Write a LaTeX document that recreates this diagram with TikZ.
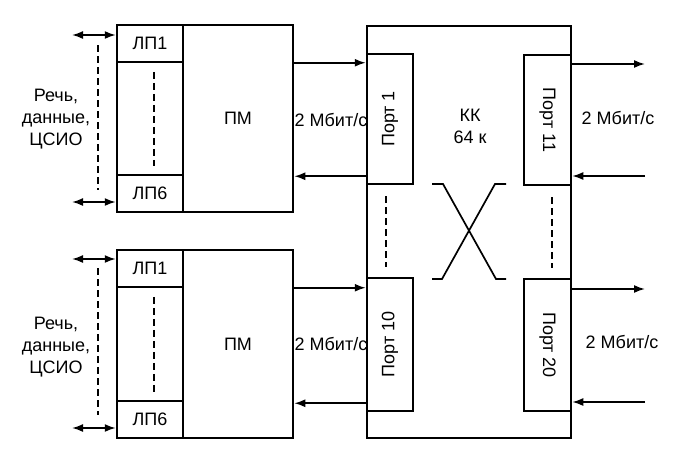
\documentclass[tikz,border=0pt]{standalone}
\usepackage{fontspec}
\setmainfont{Liberation Sans}
\usetikzlibrary{arrows.meta}

\begin{document}
\begin{tikzpicture}[x=1pt,y=-1pt,
		box/.style={draw, line width=2.5pt, fill=white, inner sep=0pt},
		arr/.style={line width=1.7pt, -{Latex[length=11pt,width=8pt]}},
		dblarr/.style={line width=1.7pt, {Latex[length=11pt,width=8pt]}-{Latex[length=11pt,width=8pt]}},
		dsh/.style={line width=1.7pt, dash pattern=on 7pt off 4pt},
		font=\fontsize{18}{22}\selectfont]
			\useasboundingbox (0,0) rectangle (691,455);
			\node[box, minimum width=110pt, minimum height=187pt] (pmA) at (238,118.5) {ПМ};
			\node[box, minimum width=66pt, minimum height=37pt] (lp1A) at (150,43.5) {ЛП1};
			\node[box, minimum width=66pt, minimum height=113pt] (lpmA) at (150,118.5) {};
			\node[box, minimum width=66pt, minimum height=37pt] (lp6A) at (150,193.5) {ЛП6};
			\node[box, minimum width=110pt, minimum height=188pt] (pmB) at (238,344) {ПМ};
			\node[box, minimum width=66pt, minimum height=37pt] (lp1B) at (150,268.5) {ЛП1};
			\node[box, minimum width=66pt, minimum height=114pt] (lpmB) at (150,344) {};
			\node[box, minimum width=66pt, minimum height=37pt] (lp6B) at (150,419.5) {ЛП6};
			\draw[dsh] ([xshift=4pt,yshift=-11pt]lpmA.north) -- ([xshift=4pt,yshift=10pt]lpmA.south);
			\draw[dsh] ([xshift=4pt,yshift=-11pt]lpmB.north) -- ([xshift=4pt,yshift=10pt]lpmB.south);
			\coordinate (srcA1) at (72,35);
			\coordinate (srcA6) at (72,202);
			\coordinate (srcB1) at (72,259);
			\coordinate (srcB6) at (72,428);
			\draw[dblarr] (srcA1) -- (srcA1 -| lp1A.west);
			\draw[dblarr] (srcA6) -- (srcA6 -| lp6A.west);
			\draw[dblarr] (srcB1) -- (srcB1 -| lp1B.west);
			\draw[dblarr] (srcB6) -- (srcB6 -| lp6B.west);
			\draw[dsh] (98,45) -- (98,190);
			\draw[dsh] (98,268) -- (98,415);
			\node[align=center] (txtA) at (56,119) {Речь,\\данные,\\ЦСИО};
			\node[align=center] (txtB) at (56,347) {Речь,\\данные,\\ЦСИО};
			\node[box, minimum width=204pt, minimum height=412pt] (kk) at (469,232) {};
			\node[align=center] (kktxt) at (470,126) {КК\\64 к};
			\node[box, minimum width=46pt, minimum height=130pt] (port1) at (390,119) {\rotatebox{90}{Порт 1}};
			\node[box, minimum width=47pt, minimum height=130pt] (port11) at (547.5,120) {\rotatebox{-90}{Порт 11}};
			\node[box, minimum width=46pt, minimum height=133pt] (port10) at (390,344.5) {\rotatebox{90}{Порт 10}};
			\node[box, minimum width=47pt, minimum height=132pt] (port20) at (547.5,345) {\rotatebox{-90}{Порт 20}};
			\draw[dsh] ([xshift=-4pt,yshift=-11pt]port1.south) -- ([xshift=-4pt,yshift=10pt]port10.north);
			\draw[dsh] ([xshift=4.5pt,yshift=-11pt]port11.south) -- ([xshift=4.5pt,yshift=10pt]port20.north);
			\draw[line width=1.7pt] (432,184) -- (443,184) -- (496,279) -- (506,279);
			\draw[line width=1.7pt] (506,184) -- (495,184) -- (442,279) -- (432,279);
			\coordinate (p1in) at ([yshift=-10pt]port1.north west);
			\coordinate (p1out) at ([yshift=9pt]port1.south west);
			\coordinate (p10in) at ([yshift=-11pt]port10.north west);
			\coordinate (p10out) at ([yshift=9pt]port10.south west);
			\draw[arr] (pmA.east |- p1in) -- (p1in);
			\draw[arr] (p1out) -- (pmA.east |- p1out);
			\draw[arr] (pmB.east |- p10in) -- (p10in);
			\draw[arr] (p10out) -- (pmB.east |- p10out);
			\coordinate (out11) at (645,64);
			\coordinate (in11) at (645,176);
			\coordinate (out20) at (645,289);
			\coordinate (in20) at (645,402);
			\draw[arr] (port11.east |- out11) -- (out11);
			\draw[arr] (in11) -- (in11 -| port11.east);
			\draw[arr] (port20.east |- out20) -- (out20);
			\draw[arr] (in20) -- (in20 -| port20.east);
			\node (rateA) at (331,120) {2 Мбит/с};
			\node (rateB) at (331,344) {2 Мбит/с};
			\node (rate11) at (618,118) {2 Мбит/с};
			\node (rate20) at (622,342) {2 Мбит/с};
		\end{tikzpicture}
\end{document}
